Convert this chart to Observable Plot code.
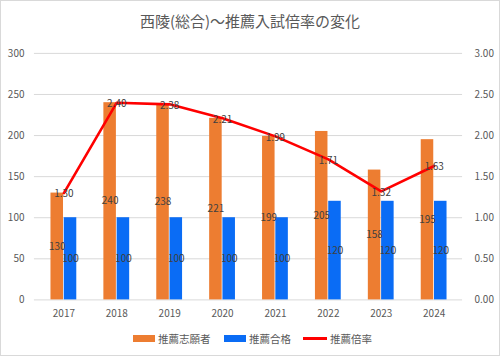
<!DOCTYPE html>
<html><head><meta charset="utf-8">
<script src="https://cdn.jsdelivr.net/npm/d3@7"></script>
<script src="https://cdn.jsdelivr.net/npm/@observablehq/plot@0.6"></script>
<style>
html,body{margin:0;padding:0;background:#fff;}
#wrap{position:relative;width:498px;height:354px;border:1px solid #d9d9d9;background:#fff;font-family:"Noto Sans CJK JP","Noto Sans",sans-serif;overflow:hidden;}
#title{position:absolute;left:0;top:9px;width:498px;text-align:center;font-size:15px;color:#595959;}
#plot{position:absolute;left:-1px;top:-1px;}
#legend{position:absolute;top:329px;left:0;width:498px;font-size:10.5px;color:#595959;}
.it{position:absolute;display:flex;align-items:center;height:16px;}
.sw{display:inline-block;width:22px;height:7px;margin-right:3px;}
.ln{display:inline-block;width:24px;height:3px;margin-right:3px;background:#ff0000;}
</style></head>
<body>
<div id="wrap">
<div id="title">西陵(総合)〜推薦入試倍率の変化</div>
<div id="plot"></div>
<div id="legend">
<div class="it" style="left:132px"><span class="sw" style="background:#ed7d31"></span>推薦志願者</div>
<div class="it" style="left:223px"><span class="sw" style="background:#0a6cf5"></span>推薦合格</div>
<div class="it" style="left:302px"><span class="ln"></span>推薦倍率</div>
</div>
</div>
<script>
const years = ["2017","2018","2019","2020","2021","2022","2023","2024"];
const applicants = [130,240,238,221,199,205,158,195];
const passed = [100,100,100,100,100,120,120,120];
const ratio = [1.30,2.40,2.38,2.21,1.99,1.71,1.32,1.63];
const leftTicks = [0,50,100,150,200,250,300];

const rows = years.map((y,i)=>({year:y, app:applicants[i], pass:passed[i], ratio:ratio[i], r100:ratio[i]*100}));
const bw = 430/8;
const half = bw/2;
const barW = 13.3;
const font = '"Noto Sans CJK JP","Noto Sans",sans-serif';

const chart = Plot.plot({
  width: 500, height: 356,
  marginTop: 53, marginBottom: 56, marginLeft: 34, marginRight: 37,
  style: {fontFamily: font, fontSize: "10px", color: "#595959", background: "transparent", overflow: "visible"},
  x: {domain: years, padding: 0, axis: null},
  y: {domain: [0,300], axis: null},
  marks: [
    Plot.ruleY(leftTicks, {stroke: "#d9d9d9", strokeWidth: 1}),
    Plot.axisY(leftTicks, {anchor: "left", tickSize: 0, tickPadding: 10, fill: "#595959", fontSize: 10, label: null}),
    Plot.axisY(leftTicks, {anchor: "right", tickSize: 0, tickPadding: 12, fill: "#595959", fontSize: 10, label: null, tickFormat: d => (d/100).toFixed(2), textAnchor: "start"}),
    Plot.axisX(years, {anchor: "bottom", tickSize: 0, tickPadding: 10, fill: "#595959", fontSize: 10, label: null}),
    Plot.barY(rows, {x: "year", y: "app", fill: "#ed7d31", insetLeft: half - barW, insetRight: half}),
    Plot.barY(rows, {x: "year", y: "pass", fill: "#0a6cf5", insetLeft: half, insetRight: half - barW}),
    Plot.line(rows, {x: "year", y: "r100", stroke: "#ff0000", strokeWidth: 2.6}),
    Plot.text(rows, {x: "year", y: d => d.app/2, text: d => String(d.app), dx: -barW/2, fill: "#404040", fontSize: 10}),
    Plot.text(rows, {x: "year", y: d => d.pass/2, text: d => String(d.pass), dx: barW/2, fill: "#404040", fontSize: 10}),
    Plot.text(rows, {x: "year", y: "r100", text: d => d.ratio.toFixed(2), fill: "#404040", fontSize: 10, dy: 1})
  ]
});
document.getElementById("plot").appendChild(chart);
</script>
</body></html>
